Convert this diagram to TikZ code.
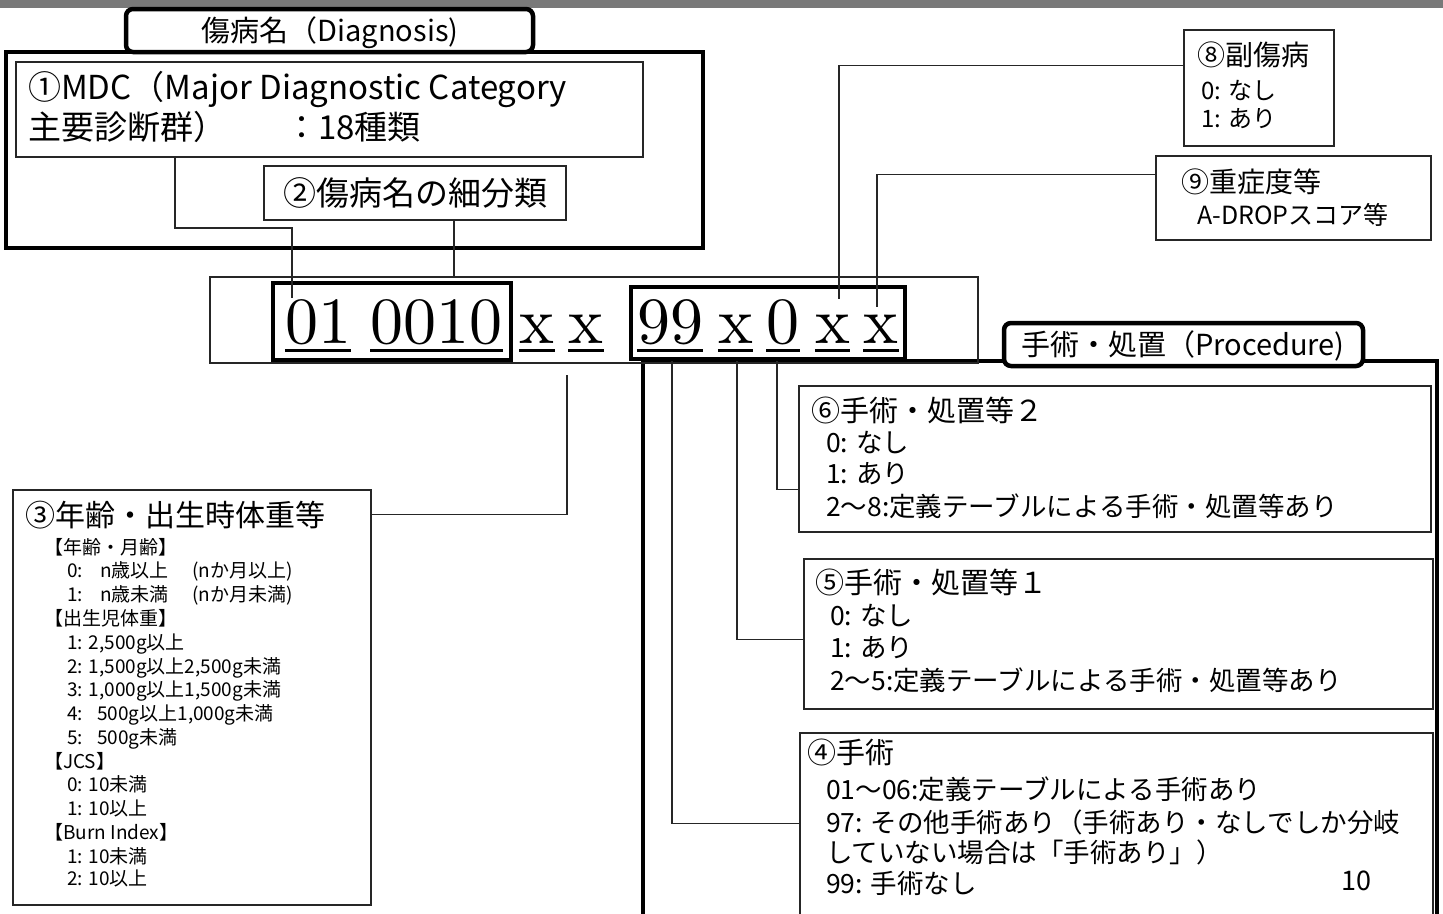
\documentclass[tikz,border=0pt]{standalone}
\usepackage{fontspec}
\setmainfont{Noto Sans CJK JP}
\newfontfamily\codefont{lmroman10-regular}[Extension=.otf]
\tikzset{
  thinbox/.style={draw=black!85, line width=1.3pt, inner sep=0pt},
  thickbox/.style={draw=black, line width=4.5pt, inner sep=0pt},
  codebox/.style={draw=black, line width=3.5pt, inner sep=0pt},
  tagbox/.style={draw=black, line width=4.5pt, inner sep=0pt, rounded corners=7pt, fill=white},
  conn/.style={draw=black!85, line width=1.3pt},
  txt/.style={inner sep=0pt, anchor=base west},
  ctxt/.style={inner sep=0pt, anchor=base},
  tok/.style={inner sep=0pt, anchor=base, font=\codefont\fontsize{66}{66}\selectfont},
}
\newcommand\mybox[6]{\node[#2, minimum width={(#5-#3)*1pt}, minimum height={(#6-#4)*1pt}] (#1) at ({(#3+#5)/2},{(#4+#6)/2}) {};}
\newcommand\tl[5]{\node[txt, font=\fontsize{#4}{#4}\selectfont] (#1) at (#2,#3) {#5};}
\newcommand\tok[3]{\node[tok] (#1) at (#2,343) {#3};
  \draw[line width=3pt] ([yshift=-7pt]#1.base west) -- ([yshift=-7pt]#1.base east);}
\begin{document}
\begin{tikzpicture}[x=1pt,y=-1pt]
\useasboundingbox (0,0) rectangle (1443,913);
\clip (0,0) rectangle (1443,913);
\fill[gray!95!black] (0,0) rectangle (1443,8);

% Diagnosis group
\mybox{diagbig}{thickbox}{6}{52}{703}{248}
\mybox{diagtag}{tagbox}{126}{9}{533}{52}
\node[ctxt, font=\fontsize{29}{29}\selectfont] (diagtxt) at (330,41) {傷病名（Diagnosis)};
\mybox{mdc}{thinbox}{16}{62}{643}{157}
\tl{mdcA}{28}{99}{33}{①MDC（Major Diagnostic Category}
\tl{mdcB}{28}{139}{33}{主要診断群）}
\tl{mdcC}{285}{139}{33}{：18種類}
\mybox{sub}{thinbox}{264}{166}{566}{220}
\node[ctxt, font=\fontsize{33}{33}\selectfont] (subtxt) at (415,205) {②傷病名の細分類};

% Procedure group
\mybox{procbig}{thickbox}{643}{361}{1437}{960}
\mybox{proctag}{tagbox}{1004}{323}{1363}{366}
\node[ctxt, font=\fontsize{29}{29}\selectfont] (proctxt) at (1183,355) {手術・処置（Procedure)};

% code
\mybox{code}{thinbox}{210}{277}{978}{363}
\mybox{codeA}{codebox}{273}{283}{511}{360}
\mybox{codeB}{codebox}{631}{287}{905}{359}
\tok{t1}{318}{01}
\tok{t2}{436.5}{0010}
\tok{t3}{537}{x}
\tok{t4}{586}{x}
\tok{t5}{670}{99}
\tok{t6}{735.5}{x}
\tok{t7}{783}{0}
\tok{t8}{832.5}{x}
\tok{t9}{881}{x}

% age box
\mybox{age}{thinbox}{13}{490}{371}{905}
\tl{ageT}{25}{526}{30}{③年齢・出生時体重等}
\tl{a1}{44}{554}{19}{【年齢・月齢】}
\tl{a2}{67}{577}{19}{\makebox[33pt][l]{0:}\makebox[92pt][l]{n歳以上}(nか月以上)}
\tl{a3}{67}{601}{19}{\makebox[33pt][l]{1:}\makebox[92pt][l]{n歳未満}(nか月未満)}
\tl{a4}{44}{625}{19}{【出生児体重】}
\tl{a5}{67}{649}{19}{1: 2,500g以上}
\tl{a6}{67}{673}{19}{2: 1,500g以上2,500g未満}
\tl{a7}{67}{696}{19}{3: 1,000g以上1,500g未満}
\tl{a8}{67}{720}{19}{\makebox[30pt][l]{4:}500g以上1,000g未満}
\tl{a9}{67}{744}{19}{\makebox[30pt][l]{5:}500g未満}
\tl{a10}{44}{768}{19}{【JCS】}
\tl{a11}{67}{791}{19}{0: 10未満}
\tl{a12}{67}{815}{19}{1: 10以上}
\tl{a13}{44}{839}{19}{【Burn Index】}
\tl{a14}{67}{863}{19}{1: 10未満}
\tl{a15}{67}{885}{19}{2: 10以上}

% secondary and severity
\mybox{sec}{thinbox}{1184}{30}{1334}{146}
\tl{secT}{1197}{65}{28}{⑧副傷病}
\tl{sec1}{1201}{99}{24}{0: なし}
\tl{sec2}{1201}{127}{24}{1: あり}
\mybox{sev}{thinbox}{1156}{156}{1431}{240}
\tl{sevT}{1181}{192}{28}{⑨重症度等}
\tl{sev1}{1197}{224}{25}{A-DROPスコア等}

% procedure boxes
\mybox{p6}{thinbox}{799}{386}{1431}{532}
\tl{p6T}{811}{421}{29}{⑥手術・処置等２}
\tl{p6a}{826}{452}{26.5}{0: なし}
\tl{p6b}{826}{483}{26.5}{1: あり}
\tl{p6c}{826}{516}{26.5}{2〜8:定義テーブルによる手術・処置等あり}
\mybox{p5}{thinbox}{804}{559}{1433}{709}
\tl{p5T}{815}{593}{29}{⑤手術・処置等１}
\tl{p5a}{830}{625}{26.5}{0: なし}
\tl{p5b}{830}{657}{26.5}{1: あり}
\tl{p5c}{830}{690}{26.5}{2〜5:定義テーブルによる手術・処置等あり}
\mybox{p4}{thinbox}{800}{733}{1433}{950}
\tl{p4T}{807}{763}{29}{④手術}
\tl{p4a}{826}{799}{26.5}{01〜06:定義テーブルによる手術あり}
\tl{p4b}{826}{832}{26.5}{97: その他手術あり（手術あり・なしでしか分岐}
\tl{p4c}{826}{862}{26.5}{していない場合は「手術あり」）}
\tl{p4d}{826}{893}{26.5}{99: 手術なし}
\node[ctxt, font=\fontsize{27}{27}\selectfont] (pagenum) at (1356,890) {10};

% connectors
\coordinate (k1) at (175,228);
\coordinate (e1) at (292,298);
\draw[conn] (k1 |- mdc.south) -- (k1) -| (e1);
\coordinate (k2) at (454,0);
\draw[conn] (sub.south -| k2) -- (code.north -| k2);
\coordinate (k3) at (567,375);
\draw[conn] (k3) |- ([yshift=-25pt]age.north east);
\coordinate (e8) at (839,299);
\draw[conn] ([yshift=-36pt]sec.north west) -| (e8);
\coordinate (e9) at (877,307);
\draw[conn] ([yshift=-19pt]sev.north west) -| (e9);
\coordinate (s4) at (672,361);
\draw[conn] (s4) |- ([yshift=-91pt]p4.north west);
\coordinate (s5) at (737,361);
\draw[conn] (s5) |- ([yshift=-81pt]p5.north west);
\coordinate (s6) at (777,361);
\draw[conn] (s6) |- ([yshift=-104pt]p6.north west);
\end{tikzpicture}
\end{document}
